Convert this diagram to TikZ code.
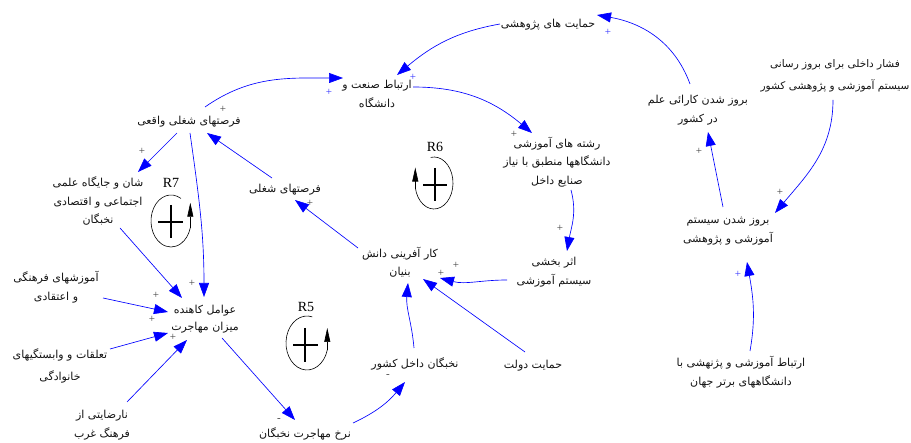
\documentclass[tikz,border=0pt]{standalone}
\usepackage{fontspec}
\setmainfont{Liberation Serif}
\newfontfamily\arabicfont[Script=Arabic]{DejaVu Sans}
\TeXXeTstate=1
\usetikzlibrary{arrows.meta,calc}
\newcommand\fa[1]{{\arabicfont\beginR #1\endR}}
\begin{document}
\begin{tikzpicture}[x=1pt,y=1pt,
 lbl/.style={align=center, font=\arabicfont\fontsize{11}{18.5}\selectfont, text=black!92, inner sep=0pt},
 conn/.style={blue, line width=0.65pt, -{Triangle[length=14pt,width=10pt]}},
 sgn/.style={font=\fontsize{11}{11}\selectfont, text=black!75, inner sep=0pt},
 bsgn/.style={sgn, text=blue!80},
 loopc/.style={black, line width=0.6pt},
 loopa/.style={black, line width=0.6pt, -{Triangle[length=14pt,width=6pt]}},
 bigplus/.style={black, line width=1.5pt},
 rlab/.style={font=\fontsize{14}{14}\selectfont, inner sep=0pt}
]
\useasboundingbox (0,0) rectangle (911,-443);
\fill[white] (0,0) rectangle (911,-443);

% variables
\node[lbl] (n1) at (548,-25) {\fa{حمایت های پژوهشی}};
\node[lbl] (n2) at (377,-94) {\fa{ارتباط صنعت و}\\\fa{دانشگاه}};
\node[lbl] (n3) at (189,-122) {\fa{فرصتهای شغلی واقعی}};
\node[lbl] (n4) at (98,-201) {\fa{شان و جایگاه علمی}\\\fa{اجتماعی و اقتصادی}\\\fa{نخبگان}};
\node[lbl] (n5) at (285,-190) {\fa{فرصتهای شغلی}};
\node[lbl] (n6) at (557,-162) {\fa{رشته های آموزشی}\\\fa{دانشگاهها منطبق با نیاز}\\\fa{صنایع داخل}};
\node[lbl] (n7) at (554,-272) {\fa{اثر بخشی}\\\fa{سیستم آموزشی}};
\node[lbl] (n8) at (400,-262) {\fa{کار آفرینی دانش}\\\fa{بنیان}};
\node[lbl] (n9) at (698,-110) {\fa{بروز شدن کارائی علم}\\\fa{در کشور}};
\node[lbl, font=\arabicfont\fontsize{10.5}{22}\selectfont] (n10) at (835,-76) {\fa{فشار داخلی برای بروز رسانی}\\\fa{سیستم آموزشی و پژوهشی کشور}};
\node[lbl] (n11) at (728,-231) {\fa{بروز شدن سیستم}\\\fa{آموزشی و پژوهشی}};
\node[lbl] (n12) at (741,-372) {\fa{ارتباط آموزشی و پژنهشی با}\\\fa{دانشگاههای برتر جهان}};
\node[lbl] (n13) at (533,-366) {\fa{حمایت دولت}};
\node[lbl] (n14) at (415,-364) {\fa{نخبگان داخل کشور}};
\node[lbl] (n15) at (305,-434) {\fa{نرخ مهاجرت نخبگان}};
\node[lbl, font=\arabicfont\fontsize{11}{16.5}\selectfont] (n16) at (205,-319) {\fa{عوامل کاهنده}\\\fa{میزان مهاجرت}};
\node[lbl] (n17) at (56,-287) {\fa{آموزشهای فرهنگی}\\\fa{و اعتقادی}};
\node[lbl, font=\arabicfont\fontsize{11}{22}\selectfont] (n18) at (60,-366) {\fa{تعلقات و وابستگیهای}\\\fa{خانوادگی}};
\node[lbl] (n19) at (102,-425) {\fa{نارضایتی از}\\\fa{فرهنگ غرب}};

% connectors
\draw[conn] ($(n3)+(16,15)$) to[out=35,in=180] ($(n2)+(-34,16)$);
\draw[conn] ($(n2)+(36,7)$) to[out=0,in=140] ($(n6)+(-25,29)$);
\draw[conn] ($(n1)+(-48,1)$) to[out=190,in=40] ($(n2)+(20,19)$);
\draw[conn] ($(n9)+(-8,26)$) to[out=110,in=-10] ($(n1)+(49,10)$);
\draw[conn] ($(n11)+(-5,24)$) -- ($(n9)+(10,-22)$);
\draw[conn] ($(n10)+(-2,-24)$) to[out=-90,in=50] ($(n11)+(47,18)$);
\draw[conn] ($(n12)+(9,21)$) to[out=80,in=-80] ($(n11)+(19,-31)$);
\draw[conn] ($(n6)+(14,-28)$) to[out=-75,in=80] ($(n7)+(13,21)$);
\draw[conn] ($(n7)+(-47,-8)$) to[out=180,in=-15] ($(n8)+(40,-16)$);
\draw[conn] ($(n13)+(-8,14)$) -- ($(n8)+(23,-17)$);
\draw[conn] ($(n14)+(-1,16)$) to[out=95,in=-95] ($(n8)+(8,-21)$);
\draw[conn] ($(n8)+(-42,14)$) -- ($(n5)+(10,-10)$);
\draw[conn] ($(n5)+(-13,12)$) -- ($(n3)+(18,-11)$);
\draw[conn] ($(n3)+(-12,-11)$) -- ($(n4)+(40,29)$);
\draw[conn] ($(n3)+(1,-11)$) to[out=-82,in=90] ($(n16)+(-1,22)$);
\draw[conn] ($(n4)+(22,-27)$) -- ($(n16)+(-23,21)$);
\draw[conn] ($(n17)+(47,-11)$) -- ($(n16)+(-37,7)$);
\draw[conn] ($(n18)+(50,17)$) -- ($(n16)+(-37,-14)$);
\draw[conn] ($(n19)+(25,23)$) -- ($(n16)+(-18,-21)$);
\draw[conn] ($(n16)+(17,-19)$) -- ($(n15)+(-10,14)$);
\draw[conn] ($(n15)+(48,11)$) to[out=25,in=-130] ($(n14)+(-10,-18)$);

% polarity signs
\node[bsgn] (s1) at (329,-92) {+};
\node[bsgn] (s2) at (413,-77) {+};
\node[bsgn] (s3) at (608,-32) {+};
\node[bsgn] (s4) at (738,-274) {+};
\node[sgn] (s5) at (514,-134) {+};
\node[sgn] (s6) at (699,-151) {+};
\node[sgn] (s7) at (780,-192) {+};
\node[sgn] (s8) at (560,-228) {+};
\node[sgn] (s9) at (456,-265) {+};
\node[sgn] (s10) at (441,-273) {+};
\node[sgn] (s11) at (310,-203) {+};
\node[sgn] (s12) at (223,-109) {+};
\node[sgn] (s13) at (142,-151) {+};
\node[sgn] (s14) at (192,-283) {+};
\node[sgn] (s15) at (156,-295) {+};
\node[sgn] (s16) at (152,-319) {+};
\node[sgn] (s17) at (173,-337) {+};
\node[sgn] (s18) at (388,-376) {-};
\node[sgn] (s19) at (279,-420) {-};

% loop R7
\node[rlab] (r7) at (171,-183) {R7};
\draw[loopc] (171,-221) ++(60:20 and 26) arc[start angle=60,end angle=345,x radius=20,y radius=26];
\draw[loopa] ($(171,-221)+(345:20 and 26)$) -- ++(0,25);
\draw[bigplus] (158,-222) -- (183,-222) (171,-205) -- (171,-238);
% loop R6
\node[rlab] (r6) at (435,-147) {R6};
\draw[loopc] (434,-183) ++(190:19 and 26) arc[start angle=190,end angle=460,x radius=19,y radius=26];
\draw[loopa] ($(434,-183)+(190:19 and 26)$) -- ++(0,20);
\draw[bigplus] (423,-185) -- (447,-185) (435,-168) -- (435,-201);
% loop R5
\node[rlab] (r5) at (306,-307) {R5};
\draw[loopc] (307,-343) ++(75:21 and 27) arc[start angle=75,end angle=345,x radius=21,y radius=27];
\draw[loopa] ($(307,-343)+(345:21 and 27)$) -- ++(0,22);
\draw[bigplus] (293,-345) -- (318,-345) (305,-328) -- (305,-362);
\end{tikzpicture}
\end{document}
